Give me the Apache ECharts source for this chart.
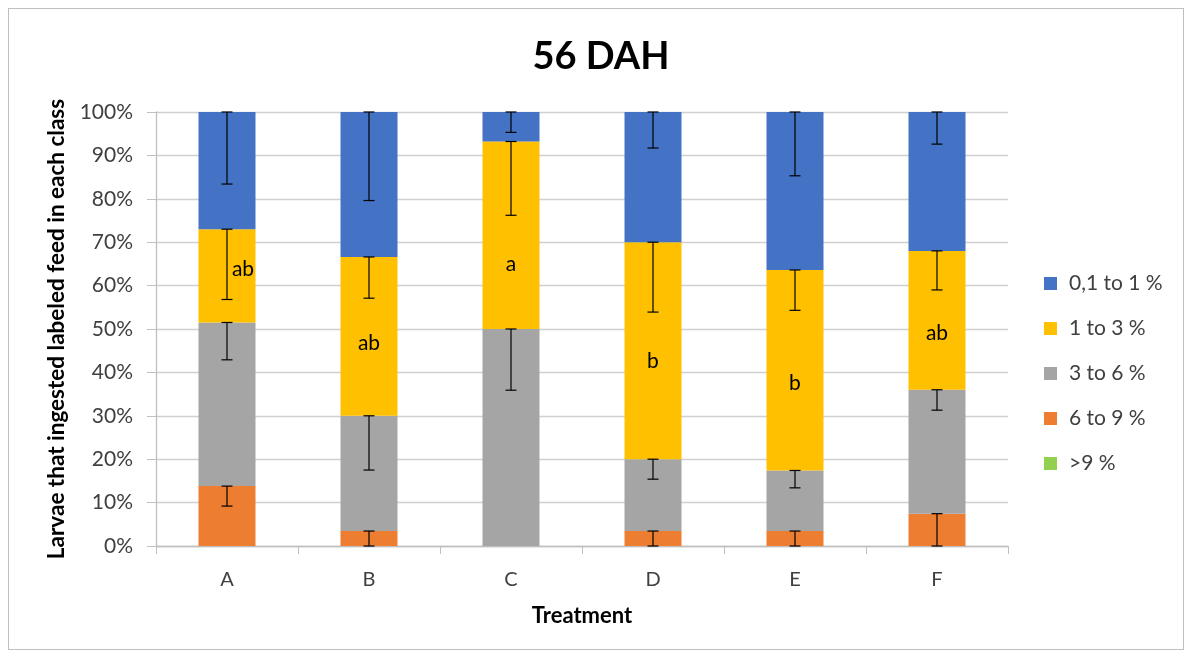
<!DOCTYPE html>
<html>
<head>
<meta charset="utf-8">
<script src="https://cdn.jsdelivr.net/npm/echarts@6/dist/echarts.min.js"></script>
<style>
html,body{margin:0;padding:0;background:#fff;}
#frame{position:absolute;left:8px;top:8px;width:1176px;height:642px;border:1px solid #bfbfbf;box-sizing:border-box;}
#chart{position:absolute;left:0;top:0;width:1192px;height:657px;}
</style>
</head>
<body>
<div id="frame"></div>
<div id="chart"></div>
<script>
// ---- data ----
const categories = ['A', 'B', 'C', 'D', 'E', 'F'];
const seriesNames = ['>9 %', '6 to 9 %', '3 to 6 %', '1 to 3 %', '0,1 to 1 %']; // stack order, bottom to top
const gt9 = [0, 0, 0, 0, 0, 0];
const c6to9 = [13.8, 3.45, 0, 3.45, 3.45, 7.45];
const c3to6 = [37.7, 26.55, 50, 16.55, 13.95, 28.55];
const c1to3 = [21.5, 36.6, 43.2, 50, 46.2, 32];
const c01to1 = [27.0, 33.4, 6.8, 30, 36.4, 32];
// minus error magnitudes (percentage points)
const err6to9 = [4.6, 3.45, 0, 3.45, 3.45, 7.45];
const err3to6 = [8.6, 12.5, 14.1, 4.6, 4.0, 4.7];
const err1to3 = [16.2, 9.5, 17.0, 16.1, 9.3, 9.0];
const err01to1 = [16.6, 20.4, 4.7, 8.3, 14.7, 7.4];
// significance letters (on "1 to 3 %" segment)
const letters = ['ab', 'ab', 'a', 'b', 'b', 'ab'];
const letterY = [63.8, 46.7, 65, 42.5, 37.6, 49];
const yTicks = [0, 10, 20, 30, 40, 50, 60, 70, 80, 90, 100];

// ---- build ----
const FONT = 'Lato, "Open Sans", sans-serif';
const colors = ['#92D050', '#ED7D31', '#A5A5A5', '#FFC000', '#4472C4'];
const values = [gt9, c6to9, c3to6, c1to3, c01to1];
const errs = [null, err6to9, err3to6, err1to3, err01to1];

const barSeries = values.map((v, i) => ({
  name: seriesNames[i],
  type: 'bar',
  stack: 'total',
  barWidth: 57,
  data: v,
  itemStyle: { color: colors[i] },
  emphasis: { disabled: true },
  z: 2
}));

// error bar data: [categoryIndex, top, bottom]
const errData = [];
categories.forEach((c, ci) => {
  let cum = 0;
  values.forEach((v, si) => {
    cum += v[ci];
    const e = errs[si];
    if (e && e[ci] > 0 && v[ci] > 0) {
      errData.push([ci, cum, cum - e[ci]]);
    }
  });
});

const errSeries = {
  type: 'custom',
  name: 'err',
  z: 5,
  silent: true,
  data: errData,
  renderItem: function (params, api) {
    const x = api.value(0);
    const p1 = api.coord([x, api.value(1)]);
    const p2 = api.coord([x, api.value(2)]);
    const cap = 5.5;
    const style = { stroke: '#000', lineWidth: 1.2 };
    return {
      type: 'group',
      children: [
        { type: 'line', shape: { x1: p1[0], y1: p1[1], x2: p2[0], y2: p2[1] }, style: style },
        { type: 'line', shape: { x1: p1[0] - cap, y1: p1[1], x2: p1[0] + cap, y2: p1[1] }, style: style },
        { type: 'line', shape: { x1: p2[0] - cap, y1: p2[1], x2: p2[0] + cap, y2: p2[1] }, style: style }
      ]
    };
  }
};

const letterSeries = {
  type: 'custom',
  name: 'letters',
  z: 6,
  silent: true,
  data: letters.map((l, i) => [i, letterY[i], l]),
  renderItem: function (params, api) {
    const i = api.value(0);
    const p = api.coord([i, api.value(1)]);
    const dx = (i === 0) ? 16 : 0; // label of A sits right of its error bar
    return {
      type: 'text',
      x: p[0] + dx,
      y: p[1],
      style: {
        text: letters[i],
        fill: '#000',
        font: '21px ' + FONT,
        textAlign: 'center',
        textVerticalAlign: 'middle'
      }
    };
  }
};

const chart = echarts.init(document.getElementById('chart'));
chart.setOption({
  animation: false,
  textStyle: { fontFamily: FONT },
  title: {
    text: '56 DAH',
    left: 596,
    textAlign: 'center',
    top: 33,
    textStyle: { fontSize: 38, fontWeight: 'bold', color: '#000', fontFamily: FONT }
  },
  legend: {
    orient: 'vertical',
    left: 1039,
    top: 268,
    data: ['0,1 to 1 %', '1 to 3 %', '3 to 6 %', '6 to 9 %', '>9 %'],
    icon: 'rect',
    itemWidth: 13,
    itemHeight: 13,
    itemGap: 24,
    selectedMode: false,
    textStyle: { fontSize: 21, color: '#404040', padding: [0, 0, 0, 7] }
  },
  grid: { left: 156, right: 184, top: 112, bottom: 111, containLabel: false },
  xAxis: {
    type: 'category',
    data: categories,
    name: 'Treatment',
    nameLocation: 'middle',
    nameGap: 59,
    nameTextStyle: { fontSize: 22, fontWeight: 'bold', color: '#000' },
    axisLine: { lineStyle: { color: '#bfbfbf', width: 1.3 } },
    axisTick: { show: true, length: 8, lineStyle: { color: '#bfbfbf' } },
    axisLabel: { fontSize: 20, color: '#404040', margin: 24 }
  },
  yAxis: {
    type: 'value',
    min: 0,
    max: 100,
    interval: 10,
    name: 'Larvae that ingested labeled feed in each class',
    nameLocation: 'middle',
    nameGap: 88,
    nameTextStyle: { fontSize: 22.5, fontWeight: 'bold', color: '#000' },
    axisLine: { show: true, lineStyle: { color: '#bfbfbf', width: 1.3 } },
    axisTick: { show: true, length: 9, lineStyle: { color: '#bfbfbf' } },
    axisLabel: {
      fontSize: 21, color: '#404040', margin: 23,
      formatter: function (v) { return yTicks.indexOf(v) >= 0 ? v + '%' : ''; }
    },
    splitLine: { lineStyle: { color: '#d0d0d0', width: 1.3 } }
  },
  series: barSeries.concat([errSeries, letterSeries])
});
</script>
</body>
</html>
